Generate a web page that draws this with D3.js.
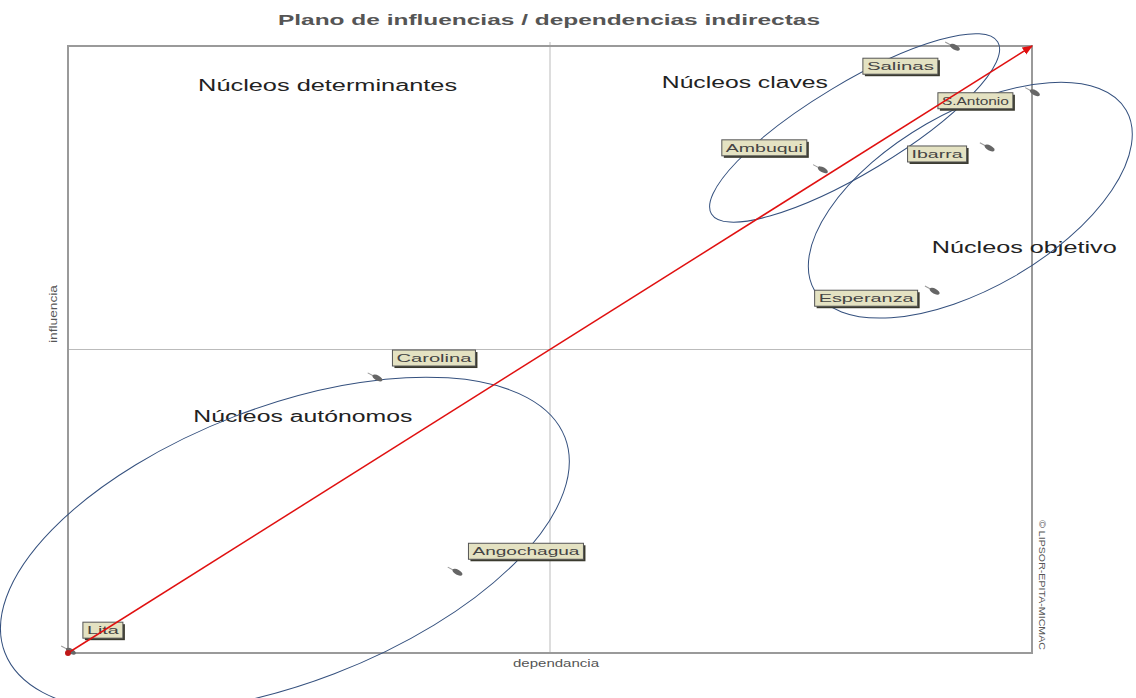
<!DOCTYPE html>
<html>
<head>
<meta charset="utf-8">
<script src="https://cdn.jsdelivr.net/npm/d3@7"></script>
<style>
  body { margin: 0; background: #fff; }
  svg { display: block; font-family: "Liberation Sans", Arial, sans-serif; }
</style>
</head>
<body>
<div id="chart"></div>
<script>
// données (dépendance = x, influence = y, en %)
var nodes       = ["Lita", "Angochagua", "Carolina", "Esperanza", "Ambuqui", "Ibarra", "S.Antonio", "Salinas"];
var dependencia = [0.3, 40.4, 32.1, 89.9, 78.3, 95.6, 100.3, 92.0];
var influencia  = [0.3, 13.3, 45.3, 59.6, 79.6, 83.2, 92.3, 99.8];

// groupes (ellipses) : centre en %
var grupos   = ["Núcleos claves", "Núcleos objetivo", "Núcleos autónomos"];
var grupoCx  = [81.6, 93.6, 22.5];
var grupoCy  = [86.5, 74.6, 17.8];

// textes des quadrants
var cuadrantes = ["Núcleos determinantes", "Núcleos claves", "Núcleos objetivo", "Núcleos autónomos"];
var cuadX      = [13.5, 61.6, 89.6, 13.0];
var cuadY      = [92.6, 93.1, 65.9, 38.1];

var titulo = "Plano de influencias / dependencias indirectas";

// mise en page (pixels) des étiquettes et des ellipses
var labelLayout = [
  {dx: 12,   dy: -29, w: 40},
  {dx: 11,   dy: -29, w: 115},
  {dx: 15,   dy: -28, w: 83},
  {dx: -120, dy: -1,  w: 103},
  {dx: -101, dy: -30, w: 85},
  {dx: -82,  dy: -2,  w: 59},
  {dx: -97,  dy: 0,   w: 75},
  {dx: -92,  dy: 11,  w: 75}
];
var ellipseLayout = [
  {rx: 167, ry: 45,  rot: -31},
  {rx: 180, ry: 88,  rot: -30},
  {rx: 300, ry: 138, rot: -21}
];
var cuadLen = [259, 166, 185, 219];

var width = 1136, height = 698;
var x0 = 68, x1 = 1032, y0 = 46, y1 = 653;

var svg = d3.select("#chart").append("svg")
    .attr("width", width)
    .attr("height", height);

var x = d3.scaleLinear().domain([0, 100]).range([x0, x1]);
var y = d3.scaleLinear().domain([0, 100]).range([y1, y0]);

// flèche rouge
svg.append("defs").append("marker")
    .attr("id", "arrow")
    .attr("viewBox", "0 0 10 10")
    .attr("refX", 9).attr("refY", 5)
    .attr("markerWidth", 7).attr("markerHeight", 7)
    .attr("orient", "auto")
  .append("path")
    .attr("d", "M0,1 L10,5 L0,9 Z")
    .attr("fill", "#e01010");

// titre
svg.append("text")
    .attr("x", 278).attr("y", 25)
    .attr("textLength", 542)
    .attr("lengthAdjust", "spacingAndGlyphs")
    .attr("font-size", 14)
    .attr("font-weight", "bold")
    .attr("fill", "#555")
    .text(titulo);

// lignes médianes
svg.append("line")
    .attr("x1", x(50)).attr("x2", x(50))
    .attr("y1", y(100) - 4).attr("y2", y(0))
    .attr("stroke", "#bbb").attr("stroke-width", 1);
svg.append("line")
    .attr("x1", x(0)).attr("x2", x(100))
    .attr("y1", y(50)).attr("y2", y(50))
    .attr("stroke", "#bbb").attr("stroke-width", 1);

// cadre
svg.append("rect")
    .attr("x", x(0)).attr("y", y(100))
    .attr("width", x(100) - x(0)).attr("height", y(0) - y(100))
    .attr("fill", "none")
    .attr("stroke", "#9a9a9a")
    .attr("stroke-width", 2);

// textes des quadrants
svg.selectAll(".cuad")
    .data(cuadrantes)
    .join("text")
    .attr("class", "cuad")
    .attr("x", function (d, i) { return x(cuadX[i]); })
    .attr("y", function (d, i) { return y(cuadY[i]); })
    .attr("textLength", function (d, i) { return cuadLen[i]; })
    .attr("lengthAdjust", "spacingAndGlyphs")
    .attr("font-size", 16)
    .attr("fill", "#222")
    .text(function (d) { return d; });

// ellipses
svg.selectAll(".grupo")
    .data(grupos)
    .join("ellipse")
    .attr("class", "grupo")
    .attr("transform", function (d, i) {
        return "translate(" + x(grupoCx[i]) + "," + y(grupoCy[i]) + ") rotate(" + ellipseLayout[i].rot + ")";
    })
    .attr("rx", function (d, i) { return ellipseLayout[i].rx; })
    .attr("ry", function (d, i) { return ellipseLayout[i].ry; })
    .attr("fill", "none")
    .attr("stroke", "#34507e")
    .attr("stroke-width", 1);

// axes (libellés)
svg.append("text")
    .attr("transform", "translate(" + 57 + "," + 314 + ") rotate(-90)")
    .attr("text-anchor", "middle")
    .attr("font-size", 11)
    .attr("textLength", 58)
    .attr("lengthAdjust", "spacingAndGlyphs")
    .attr("fill", "#555")
    .text("influencia");

svg.append("text")
    .attr("x", 556).attr("y", y1 + 14)
    .attr("text-anchor", "middle")
    .attr("font-size", 11)
    .attr("textLength", 86)
    .attr("lengthAdjust", "spacingAndGlyphs")
    .attr("fill", "#555")
    .text("dependancia");

svg.append("text")
    .attr("transform", "translate(" + 1039 + "," + 520 + ") rotate(90)")
    .attr("font-size", 9)
    .attr("textLength", 130)
    .attr("lengthAdjust", "spacingAndGlyphs")
    .attr("fill", "#555")
    .text("© LIPSOR-EPITA-MICMAC");

// points (petites épingles)
var pins = svg.selectAll(".pin")
    .data(nodes)
    .join("g")
    .attr("class", "pin")
    .attr("transform", function (d, i) {
        return "translate(" + x(dependencia[i]) + "," + y(influencia[i]) + ") rotate(28)";
    });
pins.append("line")
    .attr("x1", -11).attr("x2", 0)
    .attr("y1", 0).attr("y2", 0)
    .attr("stroke", "#999").attr("stroke-width", 1);
pins.append("ellipse")
    .attr("rx", 5.5).attr("ry", 2.6)
    .attr("fill", "#666");

// étiquettes
var labels = svg.selectAll(".lab")
    .data(nodes)
    .join("g")
    .attr("class", "lab")
    .attr("transform", function (d, i) {
        return "translate(" + (x(dependencia[i]) + labelLayout[i].dx) + "," + (y(influencia[i]) + labelLayout[i].dy) + ")";
    });
labels.append("rect")
    .attr("x", 2).attr("y", 2)
    .attr("width", function (d, i) { return labelLayout[i].w; })
    .attr("height", 16)
    .attr("fill", "#3a3a2e");
labels.append("rect")
    .attr("width", function (d, i) { return labelLayout[i].w; })
    .attr("height", 16)
    .attr("fill", "#e4e2c2")
    .attr("stroke", "#555")
    .attr("stroke-width", 1);
labels.append("text")
    .attr("x", 4).attr("y", 12)
    .attr("textLength", function (d, i) { return labelLayout[i].w - 8; })
    .attr("lengthAdjust", "spacingAndGlyphs")
    .attr("font-size", 11)
    .attr("fill", "#444")
    .text(function (d) { return d; });

// flèche diagonale
svg.append("line")
    .attr("x1", x(0)).attr("y1", y(0))
    .attr("x2", x(100)).attr("y2", y(100))
    .attr("stroke", "#e01010")
    .attr("stroke-width", 1.5)
    .attr("marker-end", "url(#arrow)");
svg.append("circle")
    .attr("cx", x(0)).attr("cy", y(0))
    .attr("r", 3)
    .attr("fill", "#c01818");
</script>
</body>
</html>
